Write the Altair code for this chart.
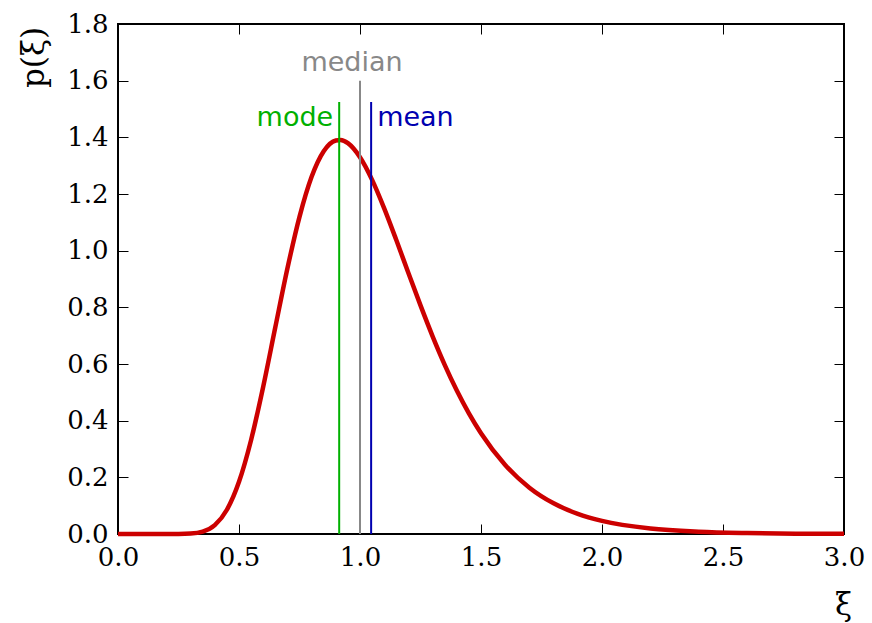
import altair as alt
import pandas as pd

# curve
xi = [0.0, 0.1, 0.2, 0.25, 0.3, 0.35, 0.4, 0.45, 0.5, 0.55, 0.6, 0.65, 0.7, 0.75,
      0.8, 0.85, 0.9, 0.92, 0.95, 1.0, 1.05, 1.1, 1.15, 1.2, 1.25, 1.3, 1.35, 1.4,
      1.45, 1.5, 1.6, 1.7, 1.8, 1.9, 2.0, 2.2, 2.4, 2.6, 2.8, 3.0]
p = [0.0, 0.0, 0.0, 0.0001, 0.0014, 0.0083, 0.0313, 0.0855, 0.1843, 0.332, 0.520,
     0.7296, 0.937, 1.1195, 1.2607, 1.351, 1.389, 1.3907, 1.3795, 1.3298, 1.2499,
     1.1494, 1.0375, 0.9213, 0.8068, 0.6978, 0.5972, 0.5064, 0.4259, 0.3557,
     0.2436, 0.1636, 0.1084, 0.0710, 0.0461, 0.0191, 0.0078, 0.0032, 0.0013, 0.0005]

stat_names = ["mode", "median", "mean"]
stat_x = [0.914, 1.0, 1.046]
stat_top = [1.525, 1.60, 1.525]
label_y = [1.44, 1.635, 1.44]
stat_colors = ["#00b000", "#888888", "#0000b0"]

x_ticks = [0.0, 0.5, 1.0, 1.5, 2.0, 2.5, 3.0]
y_ticks = [0.0, 0.2, 0.4, 0.6, 0.8, 1.0, 1.2, 1.4, 1.6, 1.8]

curve = pd.DataFrame({"xi": xi, "p": p})
stats = pd.DataFrame({"name": stat_names, "x": stat_x, "top": stat_top,
                      "ly": label_y, "color": stat_colors})

xs = alt.Scale(domain=[0, 3], nice=False, zero=False)
ys = alt.Scale(domain=[0, 1.8], nice=False)

SERIF = "DejaVu Serif"

def ax(orient, values, labels, title=None, **kw):
    args = dict(orient=orient, values=values, format=".1f", offset=-10, tickSize=10,
                tickColor="black", tickWidth=1, domain=False, grid=False,
                labels=labels, labelFont=SERIF, labelFontSize=26, labelColor="black",
                labelFlush=False, titleFont=SERIF, titleFontSize=31,
                titleFontWeight="normal", titleColor="black")
    args["title"] = title if title is not None else None
    if title is None:
        args.pop("title")
        args["title"] = None
    args.update(kw)
    return alt.Axis(**args)

main = alt.Chart(curve).mark_line(color="#cc0000", strokeWidth=4.5,
                                  interpolate="monotone").encode(
    x=alt.X("xi:Q", scale=xs,
            axis=ax("bottom", x_ticks, True, "ξ", labelPadding=10,
                    titleX=725, titleY=81, titleAlign="center",
                    titleBaseline="middle")),
    y=alt.Y("p:Q", scale=ys,
            axis=ax("left", y_ticks, True, "p(ξ)", labelPadding=10,
                    titleX=-94, titleY=33, titleAlign="center",
                    titleBaseline="middle", titleAngle=-90)),
)

frame = alt.Chart(curve).mark_line(opacity=0).encode(
    x=alt.X("xi:Q", scale=xs, axis=ax("top", x_ticks, False)),
    y=alt.Y("p:Q", scale=ys, axis=ax("right", y_ticks, False)),
)

rules = alt.Chart(stats).mark_rule(strokeWidth=2).encode(
    x=alt.X("x:Q", scale=xs, axis=None),
    y=alt.Y("top:Q", scale=ys, axis=None),
    y2=alt.datum(0),
    color=alt.Color("color:N", scale=None),
)

def label(name, align, dx):
    return alt.Chart(stats).transform_filter(alt.datum.name == name).mark_text(
        font="DejaVu Sans", fontSize=27, align=align, baseline="alphabetic", dx=dx
    ).encode(
        x=alt.X("x:Q", scale=xs, axis=None),
        y=alt.Y("ly:Q", scale=ys, axis=None),
        text="name:N",
        color=alt.Color("color:N", scale=None),
    )

chart = alt.layer(
    main, frame, rules,
    label("mode", "right", -6),
    label("median", "center", -8),
    label("mean", "left", 6),
).resolve_axis(x="independent", y="independent").properties(
    width=726, height=510,
    background="white",
    autosize=alt.AutoSizeParams(type="none"),
    padding={"left": 118, "top": 24, "right": 28, "bottom": 89},
).configure_view(stroke="black", strokeWidth=2, strokeOpacity=1)

chart.save("out.html", embed_options={"renderer": "svg", "actions": False})
